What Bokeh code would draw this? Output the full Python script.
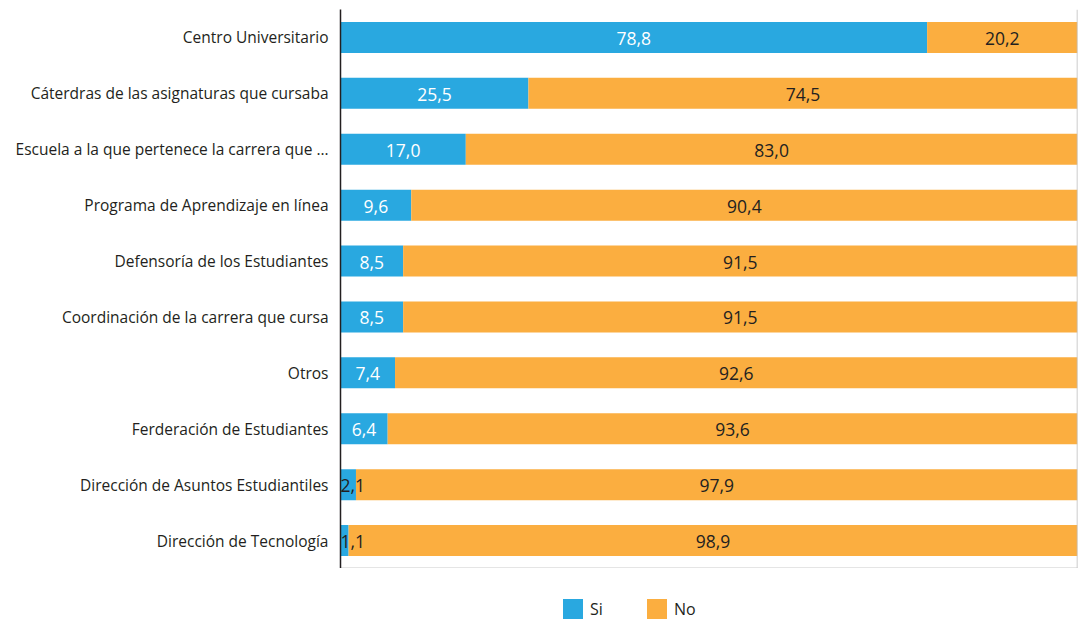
from bokeh.plotting import figure
from bokeh.models import ColumnDataSource, FactorRange, Span, Legend, LegendItem, LabelSet, FixedTicker
from bokeh.layouts import column
from bokeh.core.properties import value
from bokeh.embed import file_html
from bokeh.resources import INLINE

categories = [
    "Centro Universitario",
    "Cáterdras de las asignaturas que cursaba",
    "Escuela a la que pertenece la carrera que …",
    "Programa de Aprendizaje en línea",
    "Defensoría de los Estudiantes",
    "Coordinación de la carrera que cursa",
    "Otros",
    "Ferderación de Estudiantes",
    "Dirección de Asuntos Estudiantiles",
    "Dirección de Tecnología",
]
si = [78.8, 25.5, 17.0, 9.6, 8.5, 8.5, 7.4, 6.4, 2.1, 1.1]
no = [20.2, 74.5, 83.0, 90.4, 91.5, 91.5, 92.6, 93.6, 97.9, 98.9]
series = ["Si", "No"]

BLUE = "#29A8E0"
ORANGE = "#FBAE40"
FONT = "Open Sans"
DARK = "#231f20"

tot = [a + b for a, b in zip(si, no)]
si_n = [a / t * 100 for a, t in zip(si, tot)]
no_n = [b / t * 100 for b, t in zip(no, tot)]

def fmt(v):
    return f"{v:.1f}".replace(".", ",")

small = [v < 5 for v in si]
src = ColumnDataSource(dict(
    cat=categories,
    si0=[0] * len(si), si1=si_n,
    no0=si_n, no1=[100] * len(si),
    si_x=[0 if s else v / 2 for v, s in zip(si_n, small)],
    si_align=["left" if s else "center" for s in small],
    no_mid=[s + n / 2 for s, n in zip(si_n, no_n)],
    si_lab=[fmt(v) for v in si],
    no_lab=[fmt(v) for v in no],
    si_col=[DARK if s else "#ffffff" for s in small],
))

p = figure(
    width=1080, height=568,
    y_range=FactorRange(*reversed(categories), range_padding=0),
    x_range=(0, 100),
    output_backend="svg", toolbar_location=None,
    min_border_left=340, min_border_right=3, min_border_top=9, min_border_bottom=0,
)
p.outline_line_color = None
p.grid.visible = False

p.hbar(y="cat", left="si0", right="si1", height=0.555, color=BLUE, line_color=None, source=src)
p.hbar(y="cat", left="no0", right="no1", height=0.555, color=ORANGE, line_color=None, source=src)

p.add_layout(LabelSet(x="si_x", y="cat", text="si_lab", source=src,
                      text_align="si_align", text_baseline="middle",
                      text_font=value(FONT), text_font_size=value("17.5px"), text_color="si_col",
                      x_offset=0, y_offset=-1))
p.add_layout(LabelSet(x="no_mid", y="cat", text="no_lab", source=src,
                      text_align="center", text_baseline="middle",
                      text_font=value(FONT), text_font_size=value("17.5px"), text_color=value(DARK),
                      y_offset=-1))

p.add_layout(Span(location=100, dimension="height", line_color="#bbbbbb", line_width=1.5))

yax = p.yaxis[0]
yax.axis_line_color = DARK
yax.axis_line_width = 1.5
yax.major_tick_line_color = None
yax.minor_tick_line_color = None
yax.major_label_text_font = FONT
yax.major_label_text_font_size = "15.5px"
yax.major_label_text_color = DARK
yax.major_label_standoff = 6

xax = p.xaxis[0]
xax.axis_line_color = "#999999"
xax.axis_line_width = 1.5
xax.ticker = FixedTicker(ticks=[])
xax.major_tick_line_color = None
xax.minor_tick_line_color = None
xax.major_label_standoff = 0

# legend strip
pl = figure(width=1080, height=55, x_range=(0, 1), y_range=(0, 1),
            output_backend="svg", toolbar_location=None,
            min_border_left=340, min_border_right=3, min_border_top=0, min_border_bottom=0)
pl.axis.visible = False
pl.grid.visible = False
pl.outline_line_color = None
dummy = ColumnDataSource(dict(y=[-5], l=[0], r=[0]))
g1 = pl.hbar(y="y", left="l", right="r", height=1, color=BLUE, line_color=None, source=dummy)
g2 = pl.hbar(y="y", left="l", right="r", height=1, color=ORANGE, line_color=None, source=dummy)
legend = Legend(items=[LegendItem(label=series[0], renderers=[g1]), LegendItem(label=series[1], renderers=[g2])],
                orientation="horizontal", location=(220, 2),
                glyph_width=25, glyph_height=25, label_text_font=FONT,
                label_text_font_size="16px", label_text_color=DARK,
                label_standoff=5, spacing=34, border_line_color=None, background_fill_alpha=0,
                margin=0, padding=0)
pl.add_layout(legend)

layout = column(p, pl, spacing=0)
open("out.html", "w").write(file_html(layout, INLINE))
